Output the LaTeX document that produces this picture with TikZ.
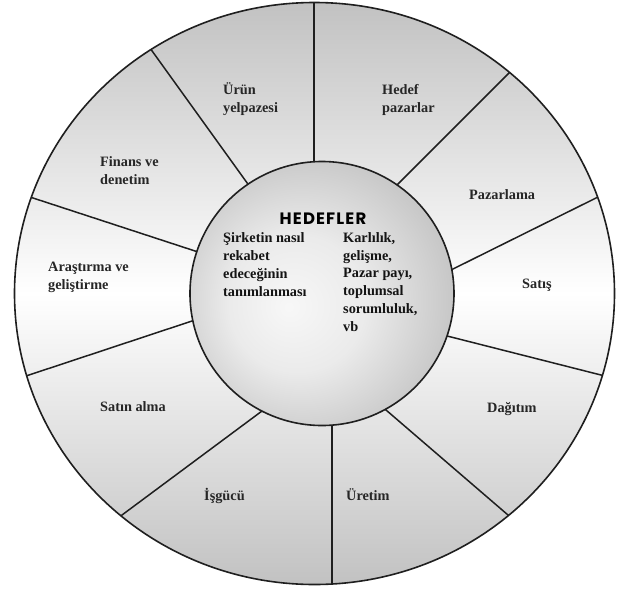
\documentclass[tikz,border=0pt]{standalone}
\usepackage{fontspec}
\setmainfont{Liberation Serif}
\newfontfamily\hedfont[LetterSpace=7]{Poppins}
\usetikzlibrary{calc}
\definecolor{ringgray}{gray}{0.76}
\definecolor{innerA}{gray}{0.97}
\definecolor{innerB}{gray}{0.92}
\definecolor{innerC}{gray}{0.76}
\definecolor{innerD}{gray}{0.62}
\definecolor{innerE}{gray}{0.56}
\definecolor{linecol}{gray}{0.12}
\definecolor{textcol}{gray}{0.15}
\pgfdeclareradialshading{hedefshade}{\pgfpoint{-6.4bp}{-2.6bp}}{color(0bp)=(innerA); color(13bp)=(innerB); color(30bp)=(innerC); color(43bp)=(innerD); color(50bp)=(innerE)}
\tikzset{
  lbl/.style={font=\fontsize{14.3}{17.7}\selectfont\bfseries, text=textcol, align=left, inner sep=0pt, anchor=base west},
  spoke/.style={draw=linecol, line width=1.5pt},
  rim/.style={draw=linecol, line width=1.6pt}
}
\begin{document}
\begin{tikzpicture}[x=1pt,y=-1pt]
\useasboundingbox (0,0) rectangle (619,590);
\coordinate (oc) at (314.5,293.5);
\coordinate (ic) at (322,293.5);
% outer disc
\path[top color=ringgray, bottom color=ringgray, middle color=white]
  (oc) ellipse [x radius=300, y radius=291];
% spoke ends
\coordinate (i1) at (314,162);  \coordinate (o1) at (314,3);
\coordinate (i2) at (245,180);  \coordinate (o2) at (155,55);
\coordinate (i3) at (192,250);  \coordinate (o3) at (33,198);
\coordinate (i4) at (192,321);  \coordinate (o4) at (32,374);
\coordinate (i5) at (262,411);  \coordinate (o5) at (122,515);
\coordinate (i6) at (332,427);  \coordinate (o6) at (332,585);
\coordinate (i7) at (386,410);  \coordinate (o7) at (508,515);
\coordinate (i8) at (455,338);  \coordinate (o8) at (597,374);
\coordinate (i9) at (457,267);  \coordinate (o9) at (596,198);
\coordinate (i10) at (402,180); \coordinate (o10) at (508,74);
\begin{scope}
  \clip (oc) ellipse [x radius=300, y radius=291];
  \foreach \k in {1,...,10}
    \draw[spoke] ($(i\k)!-14pt!(o\k)$) -- ($(o\k)!-14pt!(i\k)$);
\end{scope}
% inner circle
\path[shading=hedefshade, rim] (ic) circle [radius=132];
\draw[rim] (oc) ellipse [x radius=300, y radius=291];
% labels (anchor = baseline of the last line)
\node[lbl] (ur) at (223,112.5) {Ürün\\yelpazesi};
\node[lbl] (hp) at (382,112) {Hedef\\pazarlar};
\node[lbl] (pz) at (469,199) {Pazarlama};
\node[lbl] (st) at (522,288) {Satış};
\node[lbl] (dg) at (487,412) {Dağıtım};
\node[lbl] (ue) at (346,500) {Üretim};
\node[lbl] (ig) at (204,500) {İşgücü};
\node[lbl] (sa) at (100,411) {Satın alma};
\node[lbl] (ag) at (48,289) {Araştırma ve\\geliştirme};
\node[lbl] (fd) at (100,184) {Finans ve\\denetim};
% center
\node[font=\hedfont\bfseries\fontsize{16.5}{18}\selectfont, inner sep=0pt, text=black] (hd) at (323,219) {HEDEFLER};
\node[lbl, text=black!92] (sl) at (223,296) {Şirketin nasıl\\rekabet\\edeceğinin\\tanımlanması};
\node[lbl, text=black!92] (sr) at (343,331) {Karlılık,\\gelişme,\\Pazar payı,\\toplumsal\\sorumluluk,\\vb};
\end{tikzpicture}
\end{document}
